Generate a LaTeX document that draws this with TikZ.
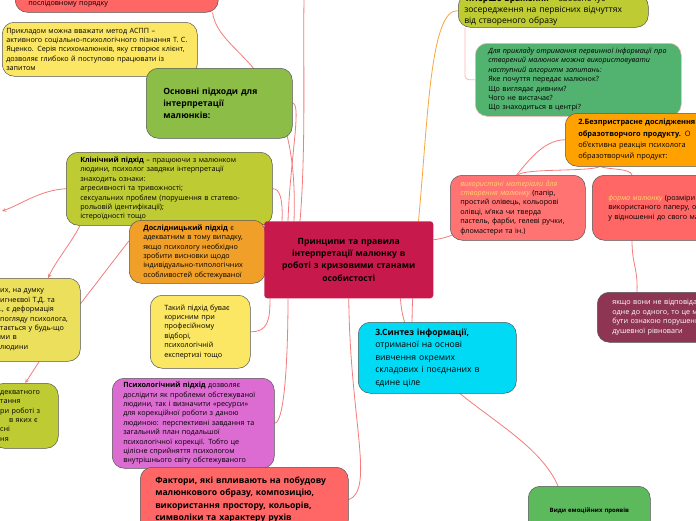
\documentclass[tikz,border=0pt]{standalone}
\usepackage{fontspec}
\setmainfont{Open Sans}
\usepackage{tikz}
\usetikzlibrary{backgrounds}

\definecolor{linkred}{HTML}{F47C7C}
\definecolor{linkorange}{HTML}{F8A53C}
\definecolor{linkpink}{HTML}{FFB4B4}
\definecolor{boxline}{HTML}{555555}
\definecolor{redbox}{HTML}{FF6666}
\definecolor{yellowbox}{HTML}{FCE764}
\definecolor{greenbox}{HTML}{8CBD47}
\definecolor{limebox}{HTML}{BECB32}
\definecolor{orangebox}{HTML}{F0A028}
\definecolor{paleyellow}{HTML}{ECDF5C}
\definecolor{orchidbox}{HTML}{DC6CD2}
\definecolor{crimsonbox}{HTML}{C8194C}
\definecolor{seagreen}{HTML}{52B26F}
\definecolor{amberbox}{HTML}{FFA200}
\definecolor{salmonbox}{HTML}{FF7373}
\definecolor{maroonbox}{HTML}{8E3554}
\definecolor{cyanbox}{HTML}{00DAF5}
\definecolor{leafbox}{HTML}{5CB95C}
\definecolor{softyellow}{HTML}{FFD36B}

\newcommand\smalltext{\fontsize{7.2}{9.4}\selectfont}
\newcommand\bigtext{\fontsize{8.6}{12.4}\selectfont}
\newcommand\midtext{\fontsize{7.4}{11.3}\selectfont}
\newcommand\tinytext{\fontsize{6}{8}\selectfont}

\begin{document}
\begin{tikzpicture}[x=1pt, y=-1pt,
    box/.style={draw=boxline, line width=0.5pt, rounded corners=12pt,
      inner sep=0pt, align=left, anchor=north west, font=\smalltext},
    link/.style={draw=linkred, line width=0.8pt}]
\useasboundingbox (0,0) rectangle (696,520);

% left side
\node (topred) [box, fill=redbox, minimum width=203pt, minimum height=30pt, text width=177pt] at (15,-18)
  {\mbox{}\\\mbox{}\\послідовному порядку};
\node (yellowone) [box, fill=yellowbox, minimum width=195pt, minimum height=54pt, text width=187pt] at (2,22)
  {Прикладом можна вважати метод АСПП –\\активного соціально-психологічного пізнання Т. С.\\Яценко. Серія психомалюнків, яку створює клієнт,\\дозволяє глибоко й поступово працювати із\\запитом};
\node (osnovni) [box, fill=greenbox, minimum width=146pt, minimum height=70pt, text width=112pt, font=\bigtext\bfseries] at (146,68)
  {Основні підходи для\\інтерпретації\\малюнків:};
\node (clinical) [box, fill=limebox, minimum width=206pt, minimum height=73pt, text width=178pt] at (66,152)
  {\textbf{Клінічний підхід} – працюючи з малюнком\\людини, психолог завдяки інтерпретації\\знаходить ознаки:\\агресивності та тривожності;\\сексуальних проблем (порушення в статево-\\рольовій ідентифікації);\\істероїдності тощо};
\node (research) [box, fill=orangebox, minimum width=136pt, minimum height=63pt, text width=108pt] at (129,220)
  {\textbf{Дослідницький підхід} є\\адекватним в тому випадку,\\якщо психологу необхідно\\зробити висновки щодо\\індивідуально-типологічних\\особливостей обстежуваної};
\node (leftyellow) [box, fill=paleyellow, minimum width=92pt, minimum height=83pt, text width=68pt] at (-12,278)
  {их, на думку\\игнеєвої Т.Д. та\\., є деформація\\погляду психолога,\\тається у будь-що\\ми в\\людини};
\node (takyi) [box, fill=yellowbox, minimum width=100pt, minimum height=73pt, text width=72pt] at (150,295)
  {Такий підхід буває\\корисним при\\професійному\\відборі,\\психологічній\\експертизі тощо};
\node (leftlime) [box, fill=limebox, minimum width=66pt, minimum height=65pt, text width=50pt] at (-8,383)
  {декватного\\тання\\ри роботі з\\\hspace*{9pt}в яких є\\сні\\ня};
\node (psych) [box, fill=orchidbox, minimum width=162pt, minimum height=90pt, text width=140pt] at (112,378)
  {\textbf{Психологічний підхід} дозволяє\\дослідити як проблеми обстежуваної\\людини, так і визначити «ресурси»\\для корекційної роботи з даною\\людиною: перспективні завдання та\\загальний план подальшої\\психологічної корекції. Тобто це\\цілісне сприйняття психологом\\внутрішнього світу обстежуваного};
\node (factors) [box, fill=redbox, minimum width=208pt, minimum height=65pt, text width=178pt, font=\bigtext\bfseries] at (140,467)
  {Фактори, які впливають на побудову\\малюнкового образу, композицію,\\використання простору, кольорів,\\символіки та характеру рухів};

% centre
\node (central) [box, fill=crimsonbox, rounded corners=3pt, draw=none, minimum width=169pt, minimum height=77pt, text width=155pt, align=center, font=\bigtext\bfseries] at (264,221)
  {Принципи та правила\\інтерпретації малюнку в\\роботі з кризовими станами\\особистості};

% right side
\node (first) [box, fill=limebox, minimum width=190pt, minimum height=33pt, text width=178pt, font=\fontsize{8.5}{11}\selectfont] at (458,-6)
  {\textbf{1.Перше враження} – забезпечує\\зосередження на первісних відчуттях\\від створеного образу};
\node (greenq) [box, fill=seagreen, draw=linkpink, minimum width=206pt, minimum height=73pt, text width=180pt] at (475,43)
  {{\itshape Для прикладу отримання первинної інформації про\\створений малюнок можна використовувати\\наступний алгоритм запитань:}\\Яке почуття передає малюнок?\\Що виглядає дивним?\\Чого не вистачає?\\Що знаходиться в центрі?};
\node (second) [box, fill=amberbox, minimum width=190pt, minimum height=53pt, text width=164pt, font=\midtext] at (565,113)
  {\textbf{2.Безпристрасне дослідження}\\\textbf{образотворчого продукту.} О\\об'єктивна реакція психолога\\образотворчий продукт:};
\node (materials) [box, fill=salmonbox, minimum width=135pt, minimum height=65pt, text width=115pt] at (450,175)
  {{\color{softyellow}\itshape використані матеріали для\\створення малюнку} (папір,\\простий олівець, кольорові\\олівці, м'яка чи тверда\\пастель, фарби, гелеві ручки,\\фломастери та ін.)};
\node (form) [box, fill=redbox, minimum width=150pt, minimum height=65pt, text width=118pt] at (592,175)
  {{\color{softyellow}\itshape форма малюнку} (розміри\\використаного паперу, ос\\у відношенні до свого ма};
\node (maroon) [box, fill=maroonbox, minimum width=150pt, minimum height=50pt, text width=120pt, text=white] at (597,292)
  {якщо вони не відповідають\\одне до одного, то це м\\бути ознакою порушенн\\душевної рівноваги};
\node (cyan) [box, fill=cyanbox, minimum width=158pt, minimum height=71pt, text width=124pt, font=\bigtext] at (358,322)
  {\textbf{3.Синтез інформації,}\\отриманої на основі\\вивчення окремих\\складових і поєднаних в\\єдине ціле};
\node (emotions) [box, fill=leafbox, minimum width=122pt, minimum height=50pt, text width=110pt, align=center, font=\tinytext\bfseries] at (528,486)
  {Види емоційних проявів};

\coordinate (upper) at (304,0);
\coordinate (leftend) at (2,211);

\begin{scope}[on background layer]
\fill [white] (0,0) rectangle (696,520);
% links
\draw [link] ([xshift=24pt]central.north west) .. controls (290,160) and (302,103) .. (osnovni.east);
\draw [link] ([xshift=30pt]central.north west) .. controls (300,60) and (220,60) .. ([xshift=-6pt]topred.south east);
\draw [link] ([xshift=36pt]central.north west) .. controls (306,150) and (303,60) .. (upper);
\draw [link] ([xshift=18pt]central.north west) .. controls (283,200) and (280,188) .. (clinical.east);
\draw [link, -stealth] (clinical.west) .. controls (40,190) and (20,205) .. (leftend);
\draw [link, -stealth] ([xshift=14pt]clinical.south west) .. controls (70,245) and (55,262) .. ([xshift=14pt]leftyellow.north);
\draw [link] ([yshift=11pt]research.west) -- ([yshift=16pt]leftyellow.east);
\draw [link, -stealth] ([xshift=5pt]leftyellow.south) -- (leftlime.north);
\draw [link] (takyi.east) .. controls (268,332) and (270,320) .. ([xshift=6pt]central.south west);
\draw [link] (psych.east) .. controls (286,423) and (288,340) .. ([xshift=24pt]central.south west);
\draw [link] (central.south) .. controls (350,420) and (375,490) .. (factors.east);
\draw [link, draw=linkorange] ([xshift=-15pt]central.north east) .. controls (428,120) and (430,8) .. (first.west);
\draw [link, draw=linkpink, rounded corners=4pt] ([xshift=7pt]first.south west) |- (greenq.west);
\draw [link] ([yshift=20pt]central.east) .. controls (500,232) and (520,140) .. (second.west);
\draw [link] ([xshift=35pt]second.south west) .. controls (590,172) and (525,168) .. (materials.north);
\draw [link] ([xshift=35pt]second.south west) .. controls (610,170) and (630,168) .. ([xshift=40pt]form.north west);
\draw [link] ([xshift=40pt]form.south west) .. controls (632,265) and (638,268) .. ([xshift=40pt]maroon.north west);
\draw [link] ([xshift=-21pt]central.south east) -- ([xshift=54pt]cyan.north west);
\draw [link] ([xshift=-33pt]central.south east) .. controls (405,390) and (530,420) .. ([xshift=30pt]emotions.north west);
\end{scope}
\end{tikzpicture}
\end{document}
